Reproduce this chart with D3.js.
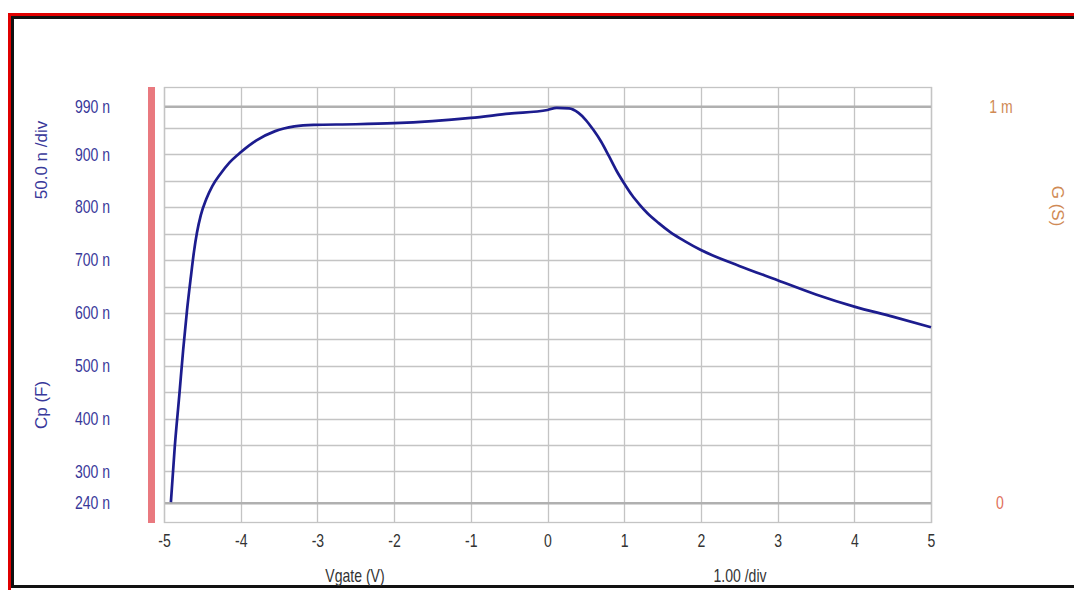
<!DOCTYPE html>
<html lang="en">
<head>
<meta charset="utf-8">
<title>Cp vs Vgate</title>
<script src="https://d3js.org/d3.v7.min.js"></script>
<style>
  body { margin: 0; background: #fff; }
  svg { display: block; }
  .tick text { font-family: "Liberation Sans", Arial, sans-serif; }
</style>
</head>
<body>
<div id="chart"></div>
<script>
// Vgate (V) and Cp (nF)
var vgate = [-4.91, -4.86, -4.80, -4.75, -4.70, -4.65, -4.61, -4.57, -4.52, -4.45, -4.37, -4.27, -4.15, -4.00, -3.80, -3.55,
             -3.30, -3.05, -2.50, -2.00, -1.50, -1.00, -0.50, 0.00, 0.12, 0.28, 0.40, 0.50, 0.60, 0.70, 0.80, 0.90,
             1.00, 1.10, 1.20, 1.30, 1.45, 1.60, 1.80, 2.00, 2.50, 3.00, 3.50, 4.00, 4.50, 5.00]
var cp = [242, 346, 445, 530, 605, 668, 715, 752, 785, 815, 840, 862, 884, 904, 926, 944,
          953, 956, 957, 959, 963, 969, 977, 984, 988, 987, 979, 965, 946, 924, 897, 869,
          845, 823, 805, 789, 770, 753, 735, 719, 689, 662, 635, 612, 593, 573]

var xTicks = [-5, -4, -3, -2, -1, 0, 1, 2, 3, 4, 5]
var yLabels = [240, 300, 400, 500, 600, 700, 800, 900, 990]
var yGrid = d3.range(300, 951, 50)
var yMarkers = [240, 990]

var W = 1074, H = 590
var svg = d3.select("#chart").append("svg").attr("width", W).attr("height", H)

// outer frame: red then black
svg.append("rect").attr("x", 9.5).attr("y", 14.5).attr("width", W + 10).attr("height", 578)
   .attr("fill", "none").attr("stroke", "#e00000").attr("stroke-width", 3)
svg.append("rect").attr("x", 12.5).attr("y", 17.5).attr("width", W + 10).attr("height", 569)
   .attr("fill", "none").attr("stroke", "#111").attr("stroke-width", 3)

var x = d3.scaleLinear().domain([-5, 5]).range([164, 931])
var y = d3.scaleLinear().domain([202.5, 1027.5]).range([523, 87])

// grid
svg.selectAll(".vgrid").data(xTicks).enter().append("line")
   .attr("x1", function(d){ return Math.round(x(d)) + 0.5 }).attr("x2", function(d){ return Math.round(x(d)) + 0.5 })
   .attr("y1", 87).attr("y2", 523)
   .attr("stroke", "#c4c4c4").attr("stroke-width", 1.3)
svg.selectAll(".hgrid").data(yGrid).enter().append("line")
   .attr("x1", 164).attr("x2", 931)
   .attr("y1", function(d){ return Math.round(y(d)) + 0.5 }).attr("y2", function(d){ return Math.round(y(d)) + 0.5 })
   .attr("stroke", "#c4c4c4").attr("stroke-width", 1.3)
svg.selectAll(".mark").data(yMarkers).enter().append("line")
   .attr("x1", 164).attr("x2", 931)
   .attr("y1", function(d){ return y(d) }).attr("y2", function(d){ return y(d) })
   .attr("stroke", "#b0b0b0").attr("stroke-width", 2.4)
svg.append("rect").attr("x", 164.5).attr("y", 87.5).attr("width", 767).attr("height", 435)
   .attr("fill", "none").attr("stroke", "#c4c4c4").attr("stroke-width", 1.3)

// pink bar on the left of the plot
svg.append("rect").attr("x", 148).attr("y", 87).attr("width", 7).attr("height", 436).attr("fill", "#e9797f")

// y axis labels (narrow look: squeeze horizontally)
var yAxis = d3.axisLeft(y).tickValues(yLabels).tickSize(0).tickPadding(0)
   .tickFormat(function(d){ return d + " n" })
var gy = svg.append("g").attr("transform", "translate(110,0)").call(yAxis)
gy.select(".domain").remove()
gy.selectAll("text").attr("fill", "#38389a").style("font-size", "18px").attr("transform", "scale(0.78,1)")

// x axis labels
var xAxis = d3.axisBottom(x).tickValues(xTicks).tickSize(0).tickPadding(0).tickFormat(function(d){ return String(d) })
var gx = svg.append("g").attr("transform", "translate(0,534)").call(xAxis)
gx.select(".domain").remove()
gx.selectAll("text").attr("fill", "#333").style("font-size", "18px").attr("transform", "scale(0.78,1)")

// curve
var pts = vgate.map(function(v, i){ return [v, cp[i]] })
var line = d3.line().x(function(d){ return x(d[0]) }).y(function(d){ return y(d[1]) }).curve(d3.curveMonotoneX)
svg.append("path").datum(pts).attr("d", line)
   .attr("fill", "none").attr("stroke", "#1c1c8e").attr("stroke-width", 2.7).attr("stroke-linejoin", "round")

// axis titles
var font = "'Liberation Sans', Arial, sans-serif"
svg.append("text").attr("transform", "translate(47,160) rotate(-90)").attr("text-anchor", "middle")
   .style("font-family", font).style("font-size", "17px").attr("fill", "#38389a").text("50.0 n /div")
svg.append("text").attr("transform", "translate(47,405) rotate(-90)").attr("text-anchor", "middle")
   .style("font-family", font).style("font-size", "17px").attr("fill", "#38389a").text("Cp (F)")
svg.append("text").attr("transform", "translate(1052,206) rotate(90)").attr("text-anchor", "middle")
   .style("font-family", font).style("font-size", "17px").attr("fill", "#d08a55").text("G (S)")

function narrowText(tx, ty, str, color) {
  svg.append("text").attr("transform", "translate(" + tx + "," + ty + ") scale(0.78,1)")
     .attr("text-anchor", "middle").style("font-family", font).style("font-size", "18px")
     .attr("fill", color).text(str)
}
narrowText(1001, 113, "1 m", "#d08a55")
narrowText(1000, 509, "0", "#e0705a")
narrowText(355, 582, "Vgate (V)", "#333")
narrowText(740, 582, "1.00 /div", "#333")
</script>
</body>
</html>
